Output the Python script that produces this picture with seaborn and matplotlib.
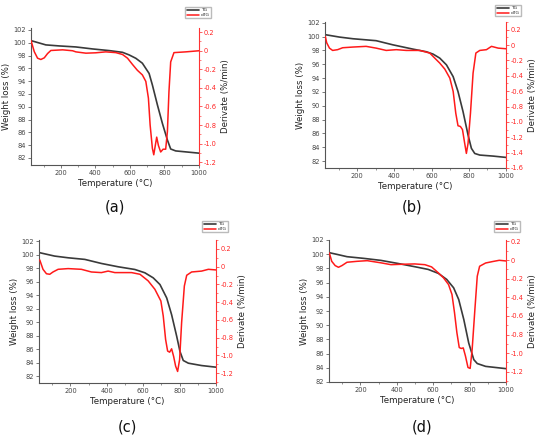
import numpy as np
import pandas as pd
import matplotlib
matplotlib.use("Agg")
import matplotlib.pyplot as plt
from matplotlib.ticker import MultipleLocator
import seaborn as sns

# ---- panel (a)
temp_tg_a = [27, 113, 190, 287, 383, 480, 557, 595, 634, 672, 711, 730, 759, 788, 817, 836, 865, 1000]
tg_a = [100.33, 99.66, 99.5, 99.34, 99.03, 98.77, 98.5, 98.1, 97.57, 96.8, 95.2, 93.4, 90.3, 87.4, 84.8, 83.4, 83.1, 82.75]
temp_dtg_a = [27, 46, 65, 84, 104, 123, 142, 210, 268, 287, 345, 402, 460, 518, 557, 586, 615, 643, 672,
              692, 707, 717, 730, 738, 746, 755, 765, 778, 792, 807, 817, 826, 836, 855, 923, 1000]
dtg_a = [0.11, -0.01, -0.08, -0.094, -0.076, -0.03, 0.003, 0.01, 0.0, -0.012, -0.026, -0.022, -0.012, -0.02, -0.04,
         -0.08, -0.148, -0.21, -0.26, -0.33, -0.51, -0.8, -1.05, -1.12, -1.03, -0.93, -1.02, -1.09, -1.06, -1.06,
         -0.87, -0.44, -0.12, -0.02, -0.012, 0.0]

# ---- panel (b)
temp_tg_b = [30, 105, 177, 302, 392, 500, 572, 608, 644, 680, 716, 742, 769, 796, 814, 832, 859, 931, 1000]
tg_b = [100.26, 99.92, 99.68, 99.4, 98.8, 98.18, 97.8, 97.46, 96.88, 95.9, 94.2, 92.05, 89.15, 85.77, 83.84, 83.1,
        82.87, 82.72, 82.53]
temp_dtg_b = [29, 36, 51, 68, 95, 122, 177, 248, 302, 356, 410, 464, 536, 590, 617, 644, 671, 698, 716, 730, 742,
              755, 766, 778, 787, 796, 809, 823, 838, 859, 895, 922, 958, 1000]
dtg_b = [0.11, 0.03, -0.04, -0.07, -0.06, -0.035, -0.026, -0.017, -0.04, -0.07, -0.06, -0.07, -0.07, -0.104,
         -0.17, -0.235, -0.313, -0.43, -0.604, -0.887, -1.05, -1.06, -1.1, -1.28, -1.41, -1.28, -0.887, -0.365,
         -0.104, -0.07, -0.06, -0.017, -0.04, -0.048]

# ---- panel (c)
temp_tg_c = [31, 113, 187, 279, 370, 462, 554, 609, 655, 692, 729, 756, 784, 802, 820, 848, 921, 1000]
tg_c = [100.27, 99.77, 99.52, 99.28, 98.68, 98.19, 97.79, 97.3, 96.55, 95.56, 93.58, 91.1, 87.9, 85.66, 84.33,
        83.93, 83.58, 83.34]
temp_dtg_c = [31, 49, 68, 86, 104, 132, 187, 260, 315, 370, 407, 444, 536, 582, 627, 664, 697, 710, 723, 734, 745,
              756, 767, 778, 789, 800, 811, 826, 839, 866, 921, 958, 1000]
dtg_c = [0.076, -0.03, -0.08, -0.086, -0.06, -0.03, -0.022, -0.03, -0.06, -0.067, -0.05, -0.067, -0.067, -0.086,
         -0.16, -0.255, -0.387, -0.556, -0.82, -0.95, -0.963, -0.925, -1.01, -1.12, -1.18, -1.046, -0.63, -0.218,
         -0.097, -0.06, -0.05, -0.03, -0.037]

# ---- panel (d)
temp_tg_d = [29, 70, 126, 219, 312, 405, 498, 572, 628, 674, 712, 740, 768, 795, 823, 842, 888, 1000]
tg_d = [100.21, 99.98, 99.65, 99.41, 99.13, 98.7, 98.24, 97.86, 97.3, 96.45, 95.27, 93.62, 90.8, 87.5, 85.15,
        84.6, 84.2, 83.88]
temp_dtg_d = [29, 42, 61, 79, 98, 126, 181, 237, 312, 368, 423, 498, 554, 591, 628, 656, 684, 703, 717, 730, 743,
              754, 765, 777, 791, 803, 814, 829, 842, 855, 888, 925, 963, 1000]
dtg_d = [0.075, -0.014, -0.06, -0.078, -0.06, -0.024, -0.014, -0.007, -0.03, -0.05, -0.046, -0.042, -0.05, -0.074,
         -0.138, -0.19, -0.263, -0.37, -0.566, -0.78, -0.94, -0.95, -0.944, -1.03, -1.154, -1.164, -0.958, -0.53,
         -0.174, -0.067, -0.032, -0.017, -0.003, -0.01]

panel_labels = ["(a)", "(b)", "(c)", "(d)"]

sns.set_style("ticks")
plt.rcParams["font.family"] = ["DejaVu Sans"]

W, H = 550, 438
fig = plt.figure(figsize=(5.5, 4.38), dpi=100)


def px_rect(l, t, r, b):
    return [l / W, 1 - b / H, (r - l) / W, (b - t) / H]


panels = [
    dict(tg=(temp_tg_a, tg_a), dtg=(temp_dtg_a, dtg_a), rect=(31, 28, 199, 165),
         ylim=(80.9, 102.3), y2lim=(-1.23, 0.245), leg=(213, 5), lab=(115, 207)),
    dict(tg=(temp_tg_b, tg_b), dtg=(temp_dtg_b, dtg_b), rect=(325, 22, 506, 168),
         ylim=(81.0, 102.1), y2lim=(-1.6, 0.3), leg=(523, 3), lab=(412, 207)),
    dict(tg=(temp_tg_c, tg_c), dtg=(temp_dtg_c, dtg_c), rect=(39, 240, 216, 383),
         ylim=(81.0, 102.15), y2lim=(-1.31, 0.3), leg=(230, 219), lab=(127, 427)),
    dict(tg=(temp_tg_d, tg_d), dtg=(temp_dtg_d, dtg_d), rect=(329, 240, 506, 382),
         ylim=(82.0, 102.0), y2lim=(-1.31, 0.215), leg=(522, 219), lab=(422, 427)),
]

for p, lab in zip(panels, panel_labels):
    ax = fig.add_axes(px_rect(*p["rect"]))
    ax2 = ax.twinx()
    sns.lineplot(x=p["tg"][0], y=p["tg"][1], ax=ax, color="#3a3a3a", lw=1.2, label="TG")
    sns.lineplot(x=p["dtg"][0], y=p["dtg"][1], ax=ax2, color="#ff1a1a", lw=1.1, label="dTG")
    ax.set_xlim(27, 1000)
    ax.set_ylim(*p["ylim"])
    ax2.set_ylim(*p["y2lim"])
    ax.xaxis.set_major_locator(MultipleLocator(200))
    ax.xaxis.set_minor_locator(MultipleLocator(100))
    ax.yaxis.set_major_locator(MultipleLocator(2))
    ax2.yaxis.set_major_locator(MultipleLocator(0.2))
    ax2.yaxis.set_minor_locator(MultipleLocator(0.1))
    ax2.yaxis.set_major_formatter(plt.FuncFormatter(lambda v, _: f"{v:.1f}".replace("-0.0", "0").replace("0.0", "0")))

    for a in (ax, ax2):
        a.spines["top"].set_visible(False)
    ax.spines["right"].set_visible(False)
    ax.spines["left"].set_color("#555555")
    ax.spines["bottom"].set_color("#555555")
    ax2.spines["left"].set_visible(False)
    ax2.spines["bottom"].set_visible(False)
    ax2.spines["right"].set_color("#ff3333")
    ax.tick_params(labelsize=4.8, length=2, width=0.5, colors="#444444", pad=1.5)
    ax.tick_params(which="minor", length=1.2, width=0.4, colors="#444444")
    ax2.tick_params(axis="y", labelsize=4.8, length=2, width=0.5, colors="#ff2222", pad=1.5)
    ax2.tick_params(axis="y", which="minor", length=1.2, width=0.4, colors="#ff2222")
    ax.set_xlabel("Temperature (°C)", fontsize=6.2, labelpad=2, color="#222222")
    ax.set_ylabel("Weight loss (%)", fontsize=6.2, labelpad=2, color="#222222")
    ax2.set_ylabel("Derivate (%/min)", fontsize=6.2, labelpad=3, color="#222222")

    h1, l1 = ax.get_legend_handles_labels()
    h2, l2 = ax2.get_legend_handles_labels()
    ax.get_legend().remove()
    ax2.get_legend().remove()
    fig.legend(h1 + h2, l1 + l2, loc="upper right",
               bbox_to_anchor=(p["leg"][0] / W, 1 - p["leg"][1] / H),
               fontsize=3.2, frameon=True, fancybox=False, edgecolor="#aaaaaa",
               handlelength=2.8, handletextpad=0.4, borderpad=0.25, labelspacing=0.15)

    fig.text(p["lab"][0] / W, 1 - p["lab"][1] / H, lab, fontsize=10.5,
             ha="center", va="center", color="#111111")

fig.savefig("out.png", dpi=100)
